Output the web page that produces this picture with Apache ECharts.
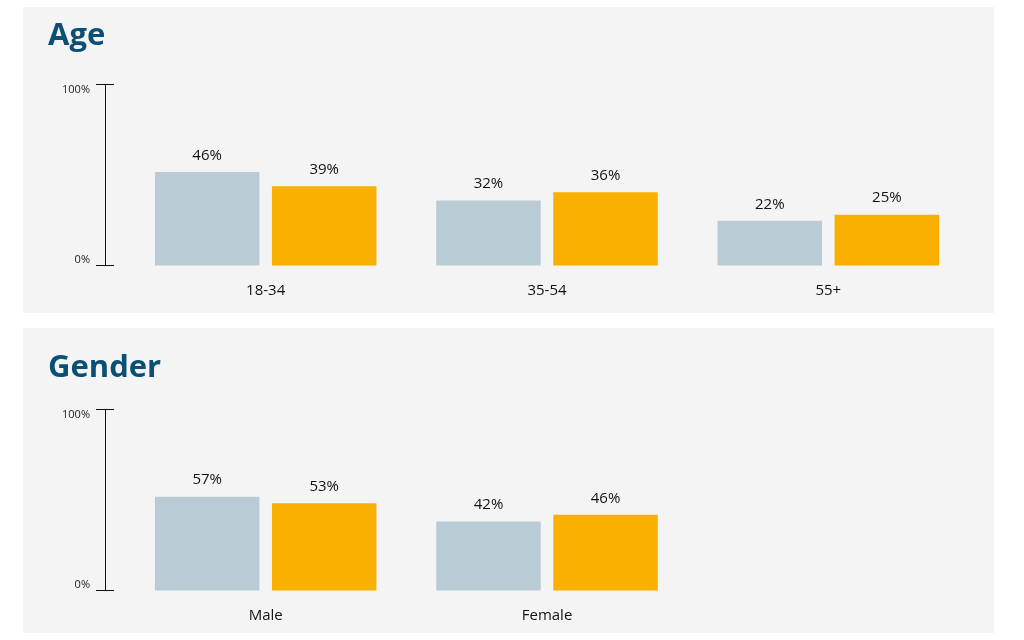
<!DOCTYPE html>
<html>
<head>
<meta charset="utf-8">
<script src="https://cdn.jsdelivr.net/npm/echarts@6/dist/echarts.min.js"></script>
<style>
html,body{margin:0;padding:0;background:#ffffff;}
#chart{width:1024px;height:640px;}
</style>
</head>
<body>
<div id="chart"></div>
<script>
// ---- data ----
const ageTitle = 'Age';
const ageCategories = ['18-34', '35-54', '55+'];
const ageSeriesA = [46, 32, 22];
const ageSeriesB = [39, 36, 25];
const ageScaleMax = 89;

const genderTitle = 'Gender';
const genderCategories = ['Male', 'Female'];
const genderSeriesA = [57, 42];
const genderSeriesB = [53, 46];
const genderScaleMax = 110;

const yTickLabels = ['0%', '100%'];

// ---- styles ----
const FONT = '"Open Sans", "Noto Sans", sans-serif';
const COLOR_A = '#b9cbd4';
const COLOR_B = '#f9b000';
const TITLE_COLOR = '#0b4f74';
const PANEL_BG = '#f4f4f4';

const chart = echarts.init(document.getElementById('chart'), null, {renderer: 'canvas'});

function yAxes(gridIndex, max, inside) {
  return {
    type: 'value', gridIndex: gridIndex, min: 0, max: max, interval: max,
    position: 'left', offset: 20,
    axisLine: {show: true, lineStyle: {color: '#111', width: 1}},
    axisTick: {show: true, inside: inside, length: 9, lineStyle: {color: '#111', width: 1}},
    splitLine: {show: false},
    axisLabel: inside ? {show: false} : {
      show: true, fontSize: 11, fontFamily: FONT, color: '#222', margin: 15,
      verticalAlignMinLabel: 'bottom', verticalAlignMaxLabel: 'top',
      formatter: function (v) { return v === 0 ? yTickLabels[0] : yTickLabels[1]; }
    }
  };
}

function xAxis(gridIndex, cats) {
  return {
    type: 'category', gridIndex: gridIndex, data: cats,
    axisLine: {show: false}, axisTick: {show: false},
    axisLabel: {fontSize: 15, fontFamily: FONT, color: '#111', margin: 18}
  };
}

function barSeries(xi, yi, data, color) {
  return {
    type: 'bar', xAxisIndex: xi, yAxisIndex: yi, data: data,
    barWidth: 104.5, barGap: '12%',
    itemStyle: {color: color},
    label: {show: true, position: 'top', distance: 9, fontSize: 15, fontFamily: FONT, color: '#111',
      formatter: function (p) { return p.value + '%'; }},
    silent: true
  };
}

const option = {
  animation: false,
  backgroundColor: '#ffffff',
  graphic: [
    {type: 'rect', shape: {x: 23, y: 7, width: 971, height: 306}, style: {fill: PANEL_BG}, z: -10},
    {type: 'rect', shape: {x: 23, y: 328, width: 971, height: 305}, style: {fill: PANEL_BG}, z: -10}
  ],
  title: [
    {text: ageTitle, left: 48, top: 21, padding: 0, textStyle: {fontSize: 31, fontWeight: 'bold', color: TITLE_COLOR, fontFamily: FONT}},
    {text: genderTitle, left: 48, top: 353, padding: 0, textStyle: {fontSize: 31, fontWeight: 'bold', color: TITLE_COLOR, fontFamily: FONT}}
  ],
  grid: [
    {left: 125, top: 84.5, width: 844, height: 181},
    {left: 125, top: 409.5, width: 562.7, height: 181}
  ],
  xAxis: [xAxis(0, ageCategories), xAxis(1, genderCategories)],
  yAxis: [
    yAxes(0, ageScaleMax, false), yAxes(0, ageScaleMax, true),
    yAxes(1, genderScaleMax, false), yAxes(1, genderScaleMax, true)
  ],
  series: [
    barSeries(0, 0, ageSeriesA, COLOR_A),
    barSeries(0, 0, ageSeriesB, COLOR_B),
    barSeries(1, 2, genderSeriesA, COLOR_A),
    barSeries(1, 2, genderSeriesB, COLOR_B)
  ]
};
chart.setOption(option);
</script>
</body>
</html>
